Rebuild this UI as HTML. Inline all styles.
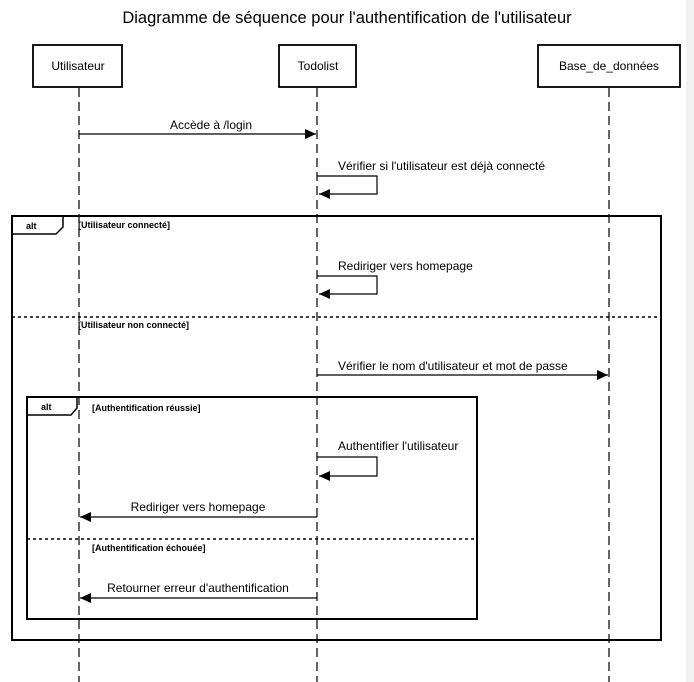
<!DOCTYPE html>
<html><head><meta charset="utf-8"><style>
html,body{margin:0;padding:0;background:#fff;width:694px;height:682px;overflow:hidden}
svg{display:block}
text{font-family:"Liberation Sans",Arial,sans-serif;fill:#000}
</style></head><body>
<svg width="694" height="682" viewBox="0 0 694 682" xmlns="http://www.w3.org/2000/svg">
<rect x="686" y="0" width="8" height="682" fill="#f2f2f2"/>
<text x="347" y="23" font-size="16.5" text-anchor="middle">Diagramme de séquence pour l'authentification de l'utilisateur</text>
<defs><marker id="a" markerWidth="12" markerHeight="10" refX="11" refY="5" orient="auto" markerUnits="userSpaceOnUse"><path d="M0,0 L11,5 L0,10 Z" fill="#000"/></marker></defs>
<g stroke="#000" stroke-width="1.2" stroke-dasharray="9,5" fill="none">
<line x1="79" y1="88" x2="79" y2="682"/>
<line x1="317" y1="88" x2="317" y2="682"/>
<line x1="609" y1="88" x2="609" y2="682"/>
</g>
<g fill="#fff" stroke="#000" stroke-width="1.8">
<rect x="33" y="45" width="89" height="42"/>
<rect x="279" y="45" width="77" height="42"/>
<rect x="538" y="45" width="142" height="42"/>
</g>
<g font-size="12" text-anchor="middle">
<text x="78" y="70">Utilisateur</text>
<text x="318" y="70">Todolist</text>
<text x="609" y="70">Base_de_données</text>
</g>
<g stroke="#000" stroke-width="1.2" fill="none">
<line x1="79" y1="134" x2="316" y2="134" marker-end="url(#a)"/>
<polyline points="317,176 377,176 377,194 319,194" marker-end="url(#a)"/>
<polyline points="317,276 377,276 377,294 319,294" marker-end="url(#a)"/>
<line x1="317" y1="375" x2="608" y2="375" marker-end="url(#a)"/>
<polyline points="317,457 377,457 377,476 319,476" marker-end="url(#a)"/>
<line x1="317" y1="517" x2="80" y2="517" marker-end="url(#a)"/>
<line x1="317" y1="598" x2="80" y2="598" marker-end="url(#a)"/>
</g>
<g font-size="12">
<text x="211" y="129" text-anchor="middle">Accède à /login</text>
<text x="338" y="170">Vérifier si l'utilisateur est déjà connecté</text>
<text x="338" y="270">Rediriger vers homepage</text>
<text x="338" y="370">Vérifier le nom d'utilisateur et mot de passe</text>
<text x="338" y="450">Authentifier l'utilisateur</text>
<text x="198" y="511" text-anchor="middle">Rediriger vers homepage</text>
<text x="198" y="592" text-anchor="middle">Retourner erreur d'authentification</text>
</g>
<g stroke="#000" fill="none">
<rect x="12" y="216" width="649" height="424" stroke-width="2"/>
<polyline points="12,234 56,234 63,227 63,216" stroke-width="1.5"/>
<line x1="12" y1="317" x2="661" y2="317" stroke-width="1.5" stroke-dasharray="3,3"/>
<rect x="27" y="397" width="450" height="222" stroke-width="2"/>
<polyline points="27,415 71,415 77,408 77,397" stroke-width="1.5"/>
<line x1="27" y1="539" x2="477" y2="539" stroke-width="1.5" stroke-dasharray="3,3"/>
</g>
<g font-size="9" font-weight="bold">
<text x="26" y="229">alt</text>
<text x="78" y="228">[Utilisateur connecté]</text>
<text x="78" y="328">[Utilisateur non connecté]</text>
<text x="41" y="410">alt</text>
<text x="92" y="411">[Authentification réussie]</text>
<text x="92" y="551">[Authentification échouée]</text>
</g>
</svg>
</body></html>
